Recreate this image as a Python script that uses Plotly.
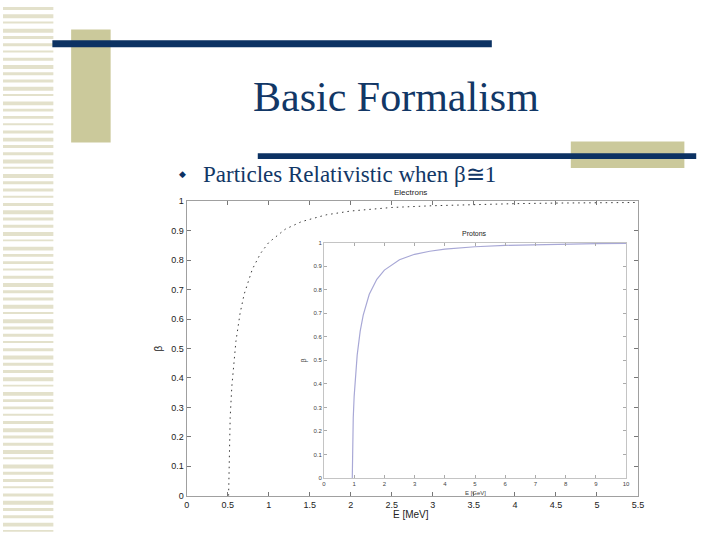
import plotly.graph_objects as go

# ---------------- data ----------------
electron_E = [0.511, 0.52, 0.53, 0.55, 0.57, 0.6, 0.65, 0.7, 0.8, 0.9, 1.0, 1.2, 1.4, 1.7,
              2.0, 2.5, 3.0, 3.5, 4.0, 4.5, 5.0, 5.5]
electron_beta = [0.0, 0.185, 0.265, 0.370, 0.443, 0.524, 0.618, 0.684, 0.769, 0.823, 0.860,
                 0.905, 0.931, 0.954, 0.967, 0.979, 0.985, 0.989, 0.992, 0.994, 0.995, 0.996]

proton_E = [0.938, 0.95, 0.97, 1.0, 1.05, 1.1, 1.2, 1.3, 1.5, 1.75, 2.0, 2.5, 3.0, 3.5, 4.0,
            5.0, 6.0, 7.0, 8.0, 9.0, 10.0]
proton_beta = [0.0, 0.158, 0.255, 0.347, 0.449, 0.522, 0.624, 0.692, 0.780, 0.844, 0.883,
               0.927, 0.950, 0.963, 0.972, 0.982, 0.988, 0.991, 0.993, 0.995, 0.996]

outer_x_ticks = [0, 0.5, 1, 1.5, 2, 2.5, 3, 3.5, 4, 4.5, 5, 5.5]
outer_x_labels = ["0", "0.5", "1", "1.5", "2", "2.5", "3", "3.5", "4", "4.5", "5", "5.5"]
beta_ticks = [0, 0.1, 0.2, 0.3, 0.4, 0.5, 0.6, 0.7, 0.8, 0.9, 1]
beta_labels = ["0", "0.1", "0.2", "0.3", "0.4", "0.5", "0.6", "0.7", "0.8", "0.9", "1"]
inset_x_ticks = [0, 1, 2, 3, 4, 5, 6, 7, 8, 9, 10]
inset_x_labels = ["0", "1", "2", "3", "4", "5", "6", "7", "8", "9", "10"]

slide_title = "Basic Formalism"
bullet_text = "Particles Relativistic when β≅1"

# ---------------- helpers ----------------
W, H = 720, 540


def px(x):
    return x / W


def py(y):
    return 1 - y / H


NAVY = "#0c3263"
BEIGE = "#cbc99b"
STRIPE = "#e3e1cb"
SANS = "Liberation Sans, Arial, sans-serif"
SERIF = "Liberation Serif, Times New Roman, serif"

fig = go.Figure()

fig.add_trace(go.Scatter(
    x=electron_E, y=electron_beta, mode="lines", xaxis="x", yaxis="y",
    line=dict(color="#3a3a3a", width=1, dash="1.5px,4px"), showlegend=False, hoverinfo="skip"))

fig.add_trace(go.Scatter(
    x=proton_E, y=proton_beta, mode="lines", xaxis="x2", yaxis="y2",
    line=dict(color="#a8a8d6", width=1.2), showlegend=False, hoverinfo="skip"))

# ---------------- slide decorations ----------------
shapes = []
# left stripe band
heights = [3, 4, 2, 4, 3, 3, 2, 3, 4, 3]
y = 2.0
i = 0
while y < H:
    h = heights[i % len(heights)]
    shapes.append(dict(type="rect", xref="paper", yref="paper", x0=px(0), x1=px(51),
                       y0=py(y + h), y1=py(y), fillcolor=STRIPE, line=dict(width=0), layer="below"))
    y += 7.4
    i += 1

# beige blocks
shapes.append(dict(type="rect", xref="paper", yref="paper", x0=px(69), x1=px(109), y0=py(140), y1=py(25),
                   fillcolor=BEIGE, line=dict(width=0), layer="below"))
shapes.append(dict(type="rect", xref="paper", yref="paper", x0=px(575), x1=px(690), y0=py(166), y1=py(139),
                   fillcolor=BEIGE, line=dict(width=0), layer="below"))
# navy bars
shapes.append(dict(type="rect", xref="paper", yref="paper", x0=px(50), x1=px(495), y0=py(43), y1=py(36),
                   fillcolor=NAVY, line=dict(width=0), layer="below"))
shapes.append(dict(type="rect", xref="paper", yref="paper", x0=px(258), x1=px(702), y0=py(157), y1=py(151),
                   fillcolor=NAVY, line=dict(width=0), layer="below"))

annotations = [
    dict(text=slide_title, x=px(398), y=py(94), xref="paper", yref="paper", showarrow=False,
         xanchor="center", yanchor="middle", font=dict(family=SERIF, size=42, color="#123766")),
    dict(text="◆", x=px(182), y=py(172), xref="paper", yref="paper", showarrow=False,
         xanchor="center", yanchor="middle", font=dict(family="DejaVu Sans", size=9, color=NAVY)),
    dict(text=bullet_text, x=px(201), y=py(173), xref="paper", yref="paper", showarrow=False,
         xanchor="left", yanchor="middle", font=dict(family=SERIF, size=23, color="#123766")),
    dict(text="Electrons", x=px(413), y=py(191), xref="paper", yref="paper", showarrow=False,
         xanchor="center", yanchor="middle", font=dict(family=SANS, size=8, color="#222222")),
    dict(text="E [MeV]", x=px(413), y=py(519), xref="paper", yref="paper", showarrow=False,
         xanchor="center", yanchor="middle", font=dict(family=SANS, size=10, color="#222222")),
    dict(text="β", x=px(157), y=py(350), xref="paper", yref="paper", showarrow=False, textangle=-90,
         xanchor="center", yanchor="middle", font=dict(family=SANS, size=10, color="#222222")),
    dict(text="Protons", x=px(477), y=py(233), xref="paper", yref="paper", showarrow=False,
         xanchor="center", yanchor="middle", font=dict(family=SANS, size=7, color="#222222")),
    dict(text="E [GeV]", x=px(478), y=py(497), xref="paper", yref="paper", showarrow=False,
         xanchor="center", yanchor="middle", font=dict(family=SANS, size=6, color="#444444")),
    dict(text="β", x=px(305), y=py(362), xref="paper", yref="paper", showarrow=False, textangle=-90,
         xanchor="center", yanchor="middle", font=dict(family=SANS, size=7, color="#444444")),
]

outer_axis = dict(showgrid=False, zeroline=False, showline=True, linecolor="#a0a0a0", linewidth=1,
                  mirror="ticks", ticks="inside", ticklen=4, tickcolor="#777777",
                  tickfont=dict(family=SANS, size=9, color="#222222"))
inset_axis = dict(showgrid=False, zeroline=False, showline=True, linecolor="#c4c4c4", linewidth=1,
                  mirror="ticks", ticks="inside", ticklen=3, tickcolor="#aaaaaa",
                  tickfont=dict(family=SANS, size=6, color="#444444"))

fig.update_layout(
    width=W, height=H, autosize=False,
    margin=dict(l=0, r=0, t=0, b=0),
    paper_bgcolor="white", plot_bgcolor="white",
    shapes=shapes, annotations=annotations,
    xaxis=dict(domain=[px(186), px(643)], range=[0, 5.5], anchor="y",
               tickvals=outer_x_ticks, ticktext=outer_x_labels, **outer_axis),
    yaxis=dict(domain=[py(500), py(200)], range=[0, 1], anchor="x",
               tickvals=beta_ticks, ticktext=beta_labels, **outer_axis),
    xaxis2=dict(domain=[px(325), px(631)], range=[0, 10], anchor="y2",
                tickvals=inset_x_ticks, ticktext=inset_x_labels, **inset_axis),
    yaxis2=dict(domain=[py(482), py(242)], range=[0, 1], anchor="x2",
                tickvals=beta_ticks, ticktext=beta_labels, **inset_axis),
)

fig.write_html("out.html", config={"displayModeBar": False},
               post_script="document.body.style.margin='0';document.body.style.overflow='hidden';")
